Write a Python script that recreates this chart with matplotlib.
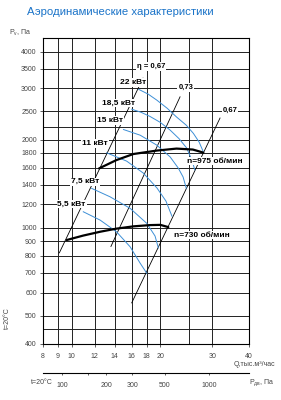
import numpy as np
import matplotlib
matplotlib.use('Agg')
import matplotlib.pyplot as plt
from matplotlib.ticker import FixedLocator, NullLocator, FixedFormatter

plt.rcParams['font.family'] = ['Liberation Sans', 'DejaVu Sans']

# оси
q_ticks = [8, 9, 10, 12, 14, 16, 18, 20, 30, 40]
q_grid = [9, 10, 12, 14, 16, 18, 20, 25, 30]
p_ticks = [400, 500, 600, 700, 800, 900, 1000, 1200, 1400, 1600, 1800, 2000, 2500, 3000, 3500, 4000]
p_grid = [450, 500, 600, 700, 800, 900, 1000, 1200, 1400, 1600, 1800, 2000, 2200, 2500, 3000, 3500, 4000]
pdv_ticks = [100, 150, 200, 300, 500, 1000]
pdv_labels = ['100', '', '200', '300', '500', '1000']
q_at_100pa = 9.28  # Q, при котором Pдв = 100 Па

# характеристики вентилятора
q_975 = [12.4, 14.2, 16.2, 19.45, 22.7, 25.8, 28.0]
p_975 = [1594, 1702, 1785, 1834, 1863, 1849, 1805]
q_730 = [9.63, 10.94, 12.5, 14.2, 16.2, 18.45, 20.0, 21.3]
p_730 = [907, 939, 968, 992, 1010, 1020, 1022, 1004]

# кривые мощности
pw_names = ['22 кВт', '18,5 кВт', '15 кВт', '11 кВт', '7,5 кВт', '5,5 кВт']
pw_q = [
    [16.9, 18.2, 19.45, 21.1, 22.7, 24.5, 25.9, 27.1, 28.0],
    [16.0, 17.2, 18.45, 20.0, 21.6, 23.15, 24.6, 25.6, 26.2],
    [15.0, 17.1, 19.45, 21.6, 23.0, 23.9, 24.5],
    [13.16, 15.38, 17.52, 19.5, 20.9, 21.9],
    [11.7, 13.5, 15.8, 18.0, 19.2, 19.7],
    [10.96, 12.5, 14.2, 15.8, 17.1, 18.0],
]
pw_p = [
    [2970, 2860, 2730, 2560, 2390, 2240, 2100, 1960, 1815],
    [2540, 2480, 2400, 2290, 2155, 2015, 1870, 1700, 1575],
    [2165, 2070, 1915, 1745, 1600, 1490, 1365],
    [1802, 1688, 1536, 1365, 1233, 1095],
    [1362, 1275, 1164, 1034, 936, 852],
    [1133, 1061, 968, 860, 755, 698],
]
pw_label_q = [16.2, 14.4, 13.5, 12.0, 11.1, 10.0]
pw_label_p = [3140, 2670, 2320, 1940, 1434, 1204]

# линии КПД (начало, конец)
eta_names = ['η = 0,67', '0,73', '0,67']
eta_q = [[9.09, 17.48], [13.6, 23.34], [16.0, 31.9]]
eta_p = [[820, 3244], [862, 2800], [553, 2370]]
eta_label_q = [18.6, 24.4, 34.5]
eta_label_p = [3560, 3020, 2510]

fig = plt.figure(figsize=(2.81, 4.0), dpi=100)
ax = fig.add_axes([43 / 281, 1 - 344 / 400, 206 / 281, 306 / 400])
ax.set_xscale('log')
ax.set_yscale('log')
ax.set_xlim(8, 40)
ax.set_ylim(400, 4450)

for q in q_grid:
    ax.axvline(q, color='#222222', lw=0.7, zorder=1)
for p in p_grid:
    ax.axhline(p, color='#222222', lw=0.7, zorder=1)

for qs, ps in zip(eta_q, eta_p):
    ax.plot(qs, ps, color='black', lw=0.6, zorder=2)
for qs, ps in zip(pw_q, pw_p):
    ax.plot(qs, ps, color='#3d8fd6', lw=0.7, zorder=3)
ax.plot(q_975, p_975, color='black', lw=1.6, zorder=4, solid_capstyle='round')
ax.plot(q_730, p_730, color='black', lw=1.6, zorder=4, solid_capstyle='round')

box = dict(facecolor='white', edgecolor='none', pad=0.6)
for name, q, p in zip(pw_names, pw_label_q, pw_label_p):
    ax.text(q, p, name, fontsize=6, fontweight='bold', ha='center', va='center',
            bbox=box, zorder=6)
for name, q, p in zip(eta_names, eta_label_q, eta_label_p):
    ax.text(q, p, name, fontsize=5.5, fontweight='bold', ha='center', va='center',
            bbox=box, zorder=6)
ax.text(30.7, 1688, 'n=975 об/мин', fontsize=6, fontweight='bold', ha='center',
        va='center', bbox=box, zorder=6)
ax.text(27.7, 943, 'n=730 об/мин', fontsize=6, fontweight='bold', ha='center',
        va='center', bbox=box, zorder=6)

ax.xaxis.set_major_locator(FixedLocator(q_ticks))
ax.xaxis.set_major_formatter(FixedFormatter([str(q) for q in q_ticks]))
ax.xaxis.set_minor_locator(NullLocator())
ax.yaxis.set_major_locator(FixedLocator(p_ticks))
ax.yaxis.set_major_formatter(FixedFormatter([str(p) for p in p_ticks]))
ax.yaxis.set_minor_locator(NullLocator())
ax.tick_params(axis='both', labelsize=5, colors='#444444', length=2.5, width=0.6, pad=2)
ax.tick_params(axis='x', pad=4)
for s in ax.spines.values():
    s.set_linewidth(0.8)


def q2pdv(q):
    return 100 * (np.abs(np.asarray(q, dtype=float)) / q_at_100pa) ** 2


def pdv2q(p):
    return q_at_100pa * np.sqrt(np.abs(np.asarray(p, dtype=float)) / 100)


sec = ax.secondary_xaxis(-29 / 306, functions=(q2pdv, pdv2q))
sec.xaxis.set_major_locator(FixedLocator(pdv_ticks))
sec.xaxis.set_major_formatter(FixedFormatter(pdv_labels))
sec.xaxis.set_minor_locator(NullLocator())
sec.tick_params(labelsize=5, colors='#444444', length=1.5, width=0.6, pad=5)
sec.spines['bottom'].set_linewidth(0.8)

fig.text(27 / 281, 1 - 12 / 400, 'Аэродинамические характеристики',
         fontsize=8.2, color='#1a73c8', ha='left', va='center')
fig.text(20 / 281, 1 - 33 / 400, 'P$_\\mathregular{v}$, Па', fontsize=5, color='#444444',
         ha='center', va='center')
fig.text(7 / 281, 1 - 318 / 400, 't=20°C', fontsize=5, color='#444444', rotation=90,
         ha='center', va='center')
fig.text(275 / 281, 1 - 364 / 400, 'Q,тыс.м³/час', fontsize=5, color='#444444',
         ha='right', va='center')
fig.text(42 / 281, 1 - 383 / 400, 't=20°C', fontsize=5, color='#444444',
         ha='center', va='center')
fig.text(262 / 281, 1 - 383 / 400, 'P$_\\mathregular{дв}$, Па', fontsize=5, color='#444444',
         ha='center', va='center')

fig.savefig('out.png', dpi=100)
